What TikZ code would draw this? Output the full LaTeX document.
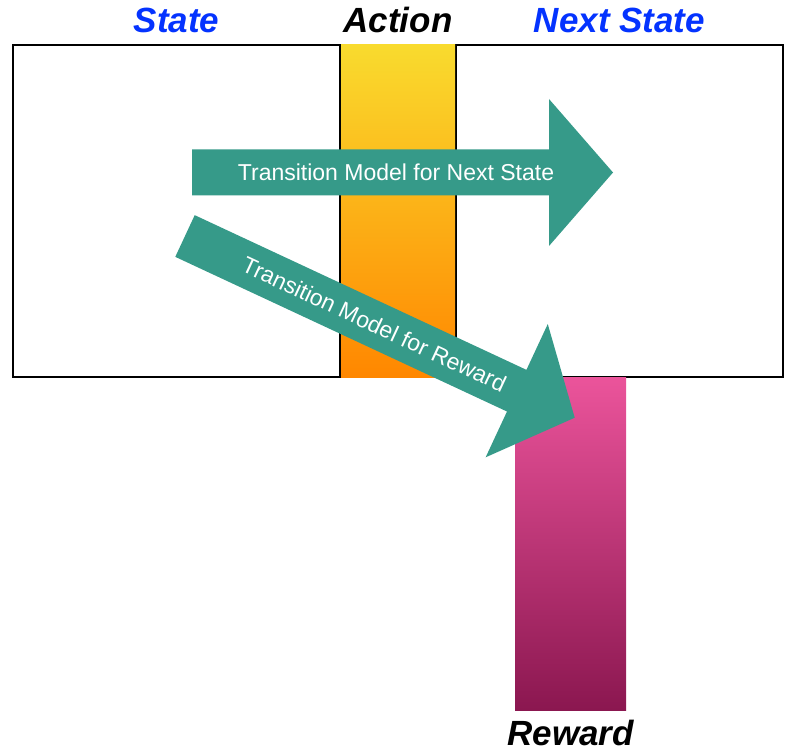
\documentclass[tikz,border=0pt]{standalone}
\usepackage{fontspec}
\setmainfont{Liberation Sans}
\usetikzlibrary{positioning}
\definecolor{mytitle}{HTML}{0433FF}
\definecolor{myarrow}{HTML}{369A89}
\definecolor{actiontop}{HTML}{F9DB2E}
\definecolor{actionbottom}{HTML}{FF8700}
\definecolor{rewardtop}{HTML}{EB549B}
\definecolor{rewardbottom}{HTML}{8B1750}

\begin{document}
\begin{tikzpicture}[
    x=1pt, y=-1pt,
    line width=2pt,
    every node/.style={inner sep=0pt, outer sep=0pt},
    box/.style={draw=black, minimum width=327pt, minimum height=332pt},
    bar/.style={minimum width=114pt, minimum height=332pt},
    title/.style={font=\fontsize{35}{40}\selectfont\bfseries\itshape},
    arrowlabel/.style={text=white, font=\fontsize{23}{26}\selectfont},
    blockarrow/.style={fill=myarrow}
]
  \useasboundingbox (0,0) rectangle (796,754);

  \node[box] (state) at (176.5,211) {};
  \node[box] (nextstate) at (619.5,211) {};
  \node[bar, top color=actiontop, bottom color=actionbottom] (action) at (398,211) {};
  \node[bar, minimum width=111pt, minimum height=333pt, anchor=north,
    top color=rewardtop, bottom color=rewardbottom] (reward) at (570.5,377) {};

  \node[title, text=mytitle, above=12pt of state.north] (statetitle) {State};
  \node[title, above=12pt of action.north] (actiontitle) {Action};
  \node[title, text=mytitle, above=12pt of nextstate.north] (nextstatetitle) {Next State};
  \node[title, below=10pt of reward.south] (rewardtitle) {Reward};

  % arrow into the next state
  \begin{scope}[shift={(192,172.5)}]
    \fill[blockarrow] (0,-23) -- (357,-23) -- (357,-73.5) -- (421,0)
      -- (357,73.5) -- (357,23) -- (0,23) -- cycle;
    \node[arrowlabel] (nextlabel) at (204,0) {Transition Model for Next State};
  \end{scope}

  % arrow into the reward
  \begin{scope}[shift={(185,236)}, rotate=-25]
    \fill[blockarrow] (0,-23) -- (366,-23) -- (366,-73.5) -- (430,0)
      -- (366,73.5) -- (366,23) -- (0,23) -- cycle;
    \node[arrowlabel, rotate=-25] (rewardlabel) at (209,0) {Transition Model for Reward};
  \end{scope}
\end{tikzpicture}
\end{document}
